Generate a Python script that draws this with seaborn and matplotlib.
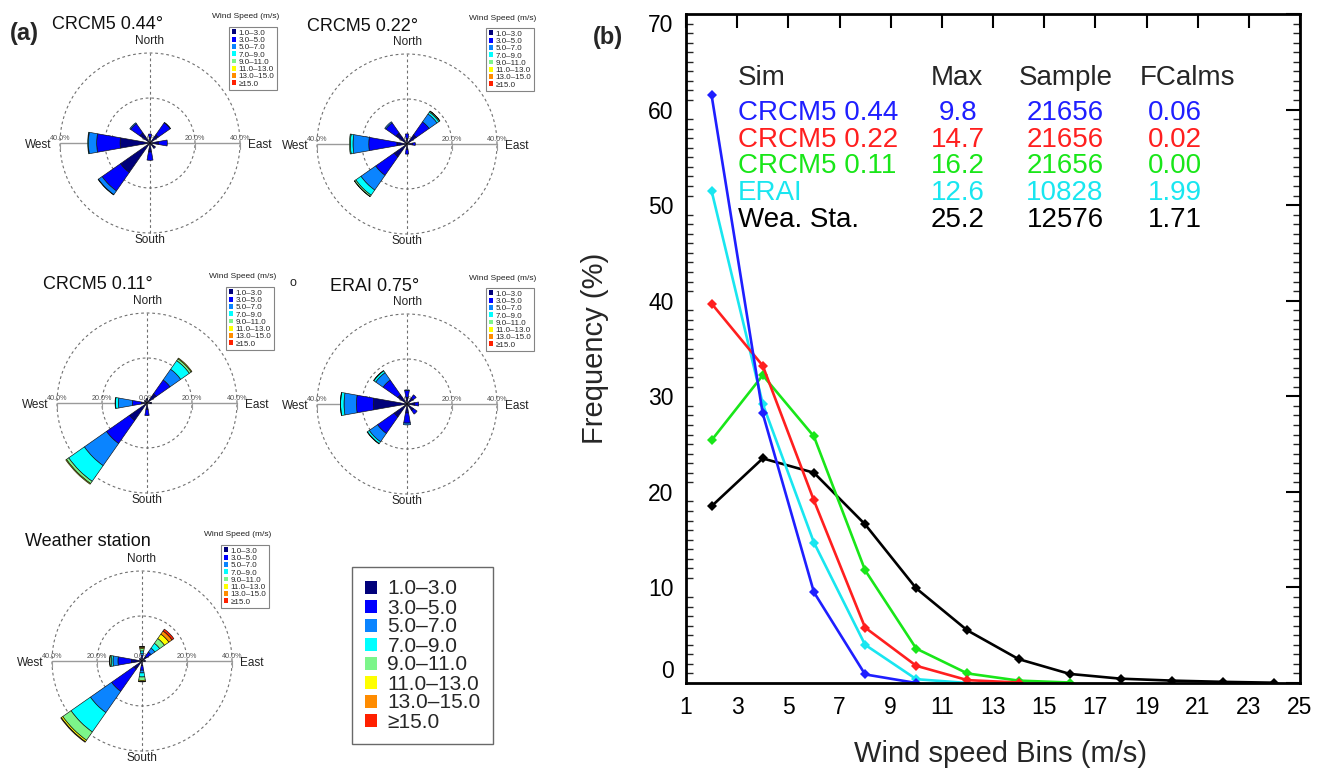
import numpy as np
import pandas as pd
import matplotlib
matplotlib.use("Agg")
import matplotlib.pyplot as plt
import seaborn as sns
from matplotlib.patches import Patch
from matplotlib.ticker import MultipleLocator

sns.set_theme(style="white")
plt.rcParams["font.family"] = ["Liberation Sans", "DejaVu Sans"]

W, H = 1321, 769

# ---------------- data: wind roses (percent per direction, stacked by speed bin) -------------
speed_bins = ["1.0–3.0", "3.0–5.0", "5.0–7.0", "7.0–9.0", "9.0–11.0",
              "11.0–13.0", "13.0–15.0", "≥15.0"]
bin_colors = ["#00007a", "#0000ff", "#0a84ff", "#00ffff", "#7cf58a",
              "#ffff00", "#ff8c00", "#ff2000"]
directions = ["N", "NNE", "NE", "ENE", "E", "ESE", "SE", "SSE",
              "S", "SSW", "SW", "WSW", "W", "WNW", "NW", "NNW"]

rose_crcm5_044 = {"N": [2.5, 1.5], "NE": [4.5, 6.5, 0.2], "E": [3.7, 4.0],
                  "SE": [2.5, 0.5], "S": [4.0, 3.7], "SW": [16.0, 10.0, 2.0, 0.2],
                  "W": [13.3, 10.4, 3.7, 0.3], "NW": [5.5, 5.0, 0.5]}
rose_crcm5_022 = {"N": [2.5, 2.0], "NE": [5.0, 7.0, 4.3, 1.0, 0.5, 0.1], "E": [2.5, 1.2],
                  "S": [2.5, 2.0], "SW": [7.0, 10.0, 8.0, 2.8, 0.7, 0.1],
                  "W": [4.5, 12.5, 7.0, 1.2, 0.4], "NW": [6.0, 5.5, 0.6]}
rose_crcm5_011 = {"N": [1.5, 0.5], "NE": [5.0, 7.5, 5.8, 4.7, 1.0, 0.4], "E": [1.5, 0.5],
                  "S": [3.0, 2.6], "SW": [9.5, 12.5, 12.0, 8.5, 1.2, 0.4],
                  "W": [2.5, 4.0, 6.2, 1.3, 0.2], "NW": [1.0, 0.5]}
rose_erai_075 = {"N": [3.0, 3.0, 0.3], "NE": [3.2, 1.8], "E": [3.5, 1.7], "SE": [3.5, 2.0],
                 "S": [4.0, 4.5, 0.8], "SW": [7.0, 9.0, 4.5, 1.0, 0.2],
                 "W": [15.0, 7.5, 5.5, 1.5, 0.1], "NW": [5.0, 8.0, 4.0, 1.0, 0.2]}
rose_station = {"N": [1.0, 1.5, 1.0, 1.0, 1.0, 0.6, 0.3, 0.1],
                "NE": [2.5, 2.4, 2.1, 2.6, 2.6, 2.4, 1.7, 1.0], "E": [1.0, 0.5],
                "S": [2.0, 2.1, 1.2, 1.8, 1.5, 0.5, 0.2],
                "SW": [4.5, 12.0, 11.5, 10.5, 4.5, 0.8, 0.3],
                "W": [4.7, 6.0, 2.2, 0.7, 0.7, 0.1], "NW": [1.0, 0.5]}

rose_titles = ["CRCM5 0.44°", "CRCM5 0.22°", "CRCM5 0.11°", "ERAI 0.75°", "Weather station"]

# ---------------- data: panel (b) ----------------
bins_ms = [2, 4, 6, 8, 10, 12, 14, 16, 18, 20, 22, 24]
freq_crcm5_044 = [61.5, 28.2, 9.5, 0.9, 0.0]
freq_crcm5_022 = [39.7, 33.2, 19.1, 5.8, 1.8, 0.3, 0.05]
freq_crcm5_011 = [25.4, 32.2, 25.8, 11.8, 3.6, 1.0, 0.25, 0.05]
freq_erai = [51.5, 29.2, 14.7, 4.0, 0.4, 0.0]
freq_station = [18.5, 23.5, 22.0, 16.6, 9.9, 5.5, 2.5, 0.95, 0.45, 0.25, 0.12, 0.03]

sim_names = ["CRCM5 0.44", "CRCM5 0.22", "CRCM5 0.11", "ERAI", "Wea. Sta."]
sim_colors = ["#1f1fff", "#ff1f1f", "#19e619", "#19e6f0", "#000000"]
max_speed = ["9.8", "14.7", "16.2", "12.6", "25.2"]
sample_size = ["21656", "21656", "21656", "10828", "12576"]
frac_calms = ["0.06", "0.02", "0.00", "1.99", "1.71"]

# ---------------- figure ----------------
fig = plt.figure(figsize=(W / 100, H / 100), dpi=100)
fig.patch.set_facecolor("white")

RMAX = 46.0
R_PX = 90.0 * RMAX / 40.0


def fx(x):
    return x / W


def fy(y):
    return 1 - y / H


def px_box(cx, cy, r):
    return [(cx - r) / W, 1 - (cy + r) / H, 2 * r / W, 2 * r / H]


def small_legend(right, top):
    handles = [Patch(facecolor=c, edgecolor="none") for c in bin_colors]
    leg = fig.legend(handles, speed_bins, loc="upper right",
                     bbox_to_anchor=(fx(right), fy(top)), fontsize=5.8,
                     frameon=True, fancybox=False, handlelength=0.55,
                     handleheight=0.55, handletextpad=0.35, labelspacing=0.0,
                     borderpad=0.3, borderaxespad=0)
    fr = leg.get_frame()
    fr.set_edgecolor("#666666")
    fr.set_linewidth(0.8)
    fr.set_facecolor("white")
    fig.text(fx(right + 2), fy(top - 10), "Wind Speed (m/s)", ha="right",
             va="center", fontsize=6, color="#222222")


def draw_rose(cx, cy, data, title, tx, ty):
    axc = fig.add_axes(px_box(cx, cy, R_PX))
    axc.set_xlim(-RMAX, RMAX)
    axc.set_ylim(-RMAX, RMAX)
    axc.axis("off")
    t = np.linspace(0, 2 * np.pi, 400)
    for rr in (20, 40):
        axc.plot(rr * np.cos(t), rr * np.sin(t), color="#707070", lw=0.8,
                 ls=(0, (2.5, 2.5)))
    axc.plot([0, 0], [-40, 40], color="#707070", lw=0.8, ls=(0, (2.5, 2.5)))
    axc.plot([-40, 40], [0, 0], color="#9a9a9a", lw=1.0)
    for xx in (-40, -20, 0, 20, 40):
        if xx != 0:
            axc.plot([xx, xx], [0, -2.5], color="#9a9a9a", lw=0.8)
        axc.text(xx, 0.4, f"{abs(xx):.1f}%", ha="center", va="bottom",
                 fontsize=5.2, color="#555555")
    axc.text(0, 45.3, "North", ha="center", va="center", fontsize=8.5, color="#222222")
    axc.text(0, -43.2, "South", ha="center", va="center", fontsize=8.5, color="#222222")
    axc.text(-43.6, -0.9, "West", ha="right", va="center", fontsize=8.5, color="#222222")
    axc.text(43.6, -0.9, "East", ha="left", va="center", fontsize=8.5, color="#222222")

    axp = fig.add_axes(px_box(cx, cy, R_PX), projection="polar")
    axp.set_theta_zero_location("N")
    axp.set_theta_direction(-1)
    axp.set_ylim(0, RMAX)
    axp.axis("off")
    axp.patch.set_alpha(0)
    width = np.deg2rad(20)
    for d, vals in data.items():
        theta = np.deg2rad(22.5 * directions.index(d))
        bottom = 0.0
        for k, v in enumerate(vals):
            axp.bar(theta, v, width=width, bottom=bottom, color=bin_colors[k],
                    edgecolor="#101010", linewidth=0.45, align="center")
            bottom += v

    fig.text(fx(tx), fy(ty), title, ha="left", va="baseline", fontsize=13,
             color="#111111")
    small_legend(cx + 127, cy - 116)


rose_sets = [rose_crcm5_044, rose_crcm5_022, rose_crcm5_011, rose_erai_075, rose_station]
rose_centers = [(150, 143), (407, 144), (147, 403), (407, 404), (142, 661)]
title_pos = [(52, 29), (307, 31), (43, 289), (330, 291), (25, 546)]
for data, (cx, cy), title, (tx, ty) in zip(rose_sets, rose_centers, rose_titles, title_pos):
    draw_rose(cx, cy, data, title, tx, ty)

fig.text(fx(293), fy(283), "o", ha="center", va="center", fontsize=9, color="#222222")

# big legend
big_handles = [Patch(facecolor=c, edgecolor="none") for c in bin_colors]
big = fig.legend(big_handles, speed_bins, loc="upper left",
                 bbox_to_anchor=(fx(352), fy(567)), fontsize=15, frameon=True,
                 fancybox=False, handlelength=0.6, handleheight=0.6,
                 handletextpad=0.5, labelspacing=0.0, borderpad=0.6,
                 borderaxespad=0)
big.get_frame().set_edgecolor("#444444")
big.get_frame().set_linewidth(1.0)

fig.text(fx(10), fy(40), "(a)", fontsize=17, fontweight="bold", va="baseline")
fig.text(fx(593), fy(44), "(b)", fontsize=17, fontweight="bold", va="baseline")

# ---------------- panel (b) ----------------
axb = fig.add_axes([fx(686), fy(683), (1300 - 686) / W, (683 - 14) / H])
series = [freq_crcm5_044, freq_crcm5_022, freq_crcm5_011, freq_erai, freq_station]
df = pd.concat([pd.DataFrame({"bin": bins_ms[:len(v)], "freq": v, "sim": n})
                for n, v in zip(sim_names, series)], ignore_index=True)
sns.lineplot(data=df, x="bin", y="freq", hue="sim",
             hue_order=sim_names[::-1],
             palette=dict(zip(sim_names, sim_colors)),
             marker="D", markersize=5, markeredgewidth=0, linewidth=1.9,
             estimator=None, sort=False, legend=False, ax=axb)
axb.set_xlim(1, 25)
axb.set_ylim(0, 70)
axb.set_xticks(range(1, 26, 2))
axb.set_yticks(range(0, 71, 10))
axb.yaxis.set_minor_locator(MultipleLocator(1))
axb.tick_params(axis="both", which="major", direction="in", length=10, width=1.5,
                top=True, right=True, labelsize=16.5, pad=9, colors="black")
axb.tick_params(axis="y", which="minor", direction="in", length=5, width=1.0,
                left=True, right=True)
for sp in axb.spines.values():
    sp.set_linewidth(2)
    sp.set_color("black")
axb.set_xlabel("Wind speed Bins (m/s)", fontsize=21)
axb.set_ylabel("Frequency (%)", fontsize=21)
axb.xaxis.set_label_coords(0.513, -0.085)
axb.yaxis.set_label_coords(-0.125, 0.5)
ylabels = axb.get_yticklabels()
ylabels[0].set_va("bottom")
ylabels[-1].set_va("top")

# stats table
row_base = [120, 147, 173, 200, 227]
fig.text(fx(738), fy(85), "Sim", fontsize=20, va="baseline", ha="left")
fig.text(fx(957), fy(85), "Max", fontsize=20, va="baseline", ha="center")
fig.text(fx(1066), fy(85), "Sample", fontsize=20, va="baseline", ha="center")
fig.text(fx(1188), fy(85), "FCalms", fontsize=20, va="baseline", ha="center")
for i, yb in enumerate(row_base):
    c = sim_colors[i]
    fig.text(fx(738), fy(yb), sim_names[i], fontsize=20, va="baseline", ha="left", color=c)
    fig.text(fx(958), fy(yb), max_speed[i], fontsize=20, va="baseline", ha="center", color=c)
    fig.text(fx(1065), fy(yb), sample_size[i], fontsize=20, va="baseline", ha="center", color=c)
    fig.text(fx(1175), fy(yb), frac_calms[i], fontsize=20, va="baseline", ha="center", color=c)

fig.savefig("out.png", dpi=100, facecolor="white")
